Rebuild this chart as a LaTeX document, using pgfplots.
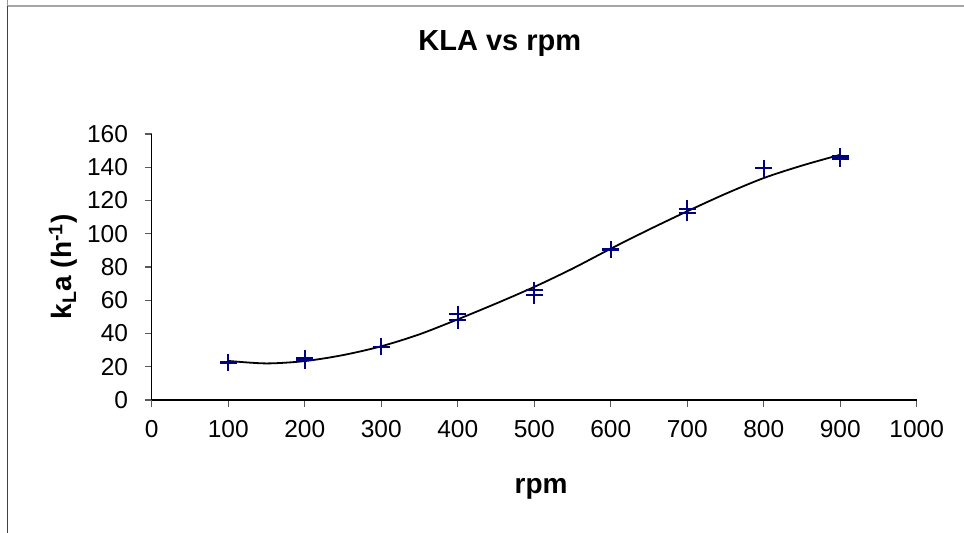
\documentclass[border=0pt]{standalone}
\usepackage{pgfplots}
\pgfplotsset{compat=1.18}
\usepackage{fontspec}
\setmainfont{Liberation Sans}
\definecolor{navyblue}{RGB}{0,0,128}
\begin{document}
\begin{tikzpicture}[x=1bp,y=1bp]
\useasboundingbox (0,0) rectangle (964,533);
\draw[color=black!40, line width=1.2bp] (7.3,533) -- (7.3,527);
\draw[color=black!35, line width=1.2bp] (7.3,527) -- (964,527);
\draw[color=black!75, line width=1.2bp] (7.3,0) -- (7.3,527);
\begin{axis}[
  at={(151.7bp,133bp)}, anchor=south west,
  scale only axis, width=765bp, height=266bp,
  xmin=0, xmax=1000, ymin=0, ymax=160,
  axis lines*=left,
  axis line style={line width=1.2bp, black},
  xtick={0,100,...,1000}, ytick={0,20,...,160},
  tick align=outside, major tick length=7bp,
  tick style={line width=1.2bp, black!65},
  /pgf/number format/assume math mode=true,
  /pgf/number format/1000 sep={},
  tick label style={font=\fontsize{24.5bp}{28bp}\selectfont},
  xticklabel style={anchor=north, inner sep=0pt},
  yticklabel style={anchor=east, inner sep=0pt},
  xticklabel shift=13bp,
  yticklabel shift=16.5bp,
  title={\bfseries KLA vs rpm},
  title style={font=\fontsize{29bp}{34bp}\selectfont, at={(axis description cs:0.455,1.29)}, anchor=base},
  xlabel={\bfseries rpm},
  xlabel style={font=\fontsize{28bp}{32bp}\selectfont, at={(axis description cs:0.509,-0.35)}, anchor=base},
  ylabel={\bfseries k\textsubscript{L}a (h\textsuperscript{-1})},
  ylabel style={font=\fontsize{28bp}{32bp}\selectfont, at={(axis description cs:-0.116,0.5)}, anchor=center, rotate=0},
  clip=false,
]
\addplot[black, line width=1.8bp, smooth, no markers] coordinates {
  (100,23.5) (150,22.0) (200,23.4) (250,27) (300,32.3) (350,39.5) (400,48.5)
  (450,58) (500,68) (550,79) (600,91) (650,102.5) (700,113.5) (750,124)
  (800,133.5) (850,141) (900,147.5)
};
\addplot[only marks, mark=+, mark size=8.5bp, navyblue, line width=2.2bp] coordinates {
  (100,22.5) (200,24) (200,25) (300,32) (400,51.5) (400,48)
  (500,66) (500,63) (600,90.5) (700,115) (700,112.5) (800,139.5)
  (900,146.5) (900,145)
};
\end{axis}
\end{tikzpicture}
\end{document}
